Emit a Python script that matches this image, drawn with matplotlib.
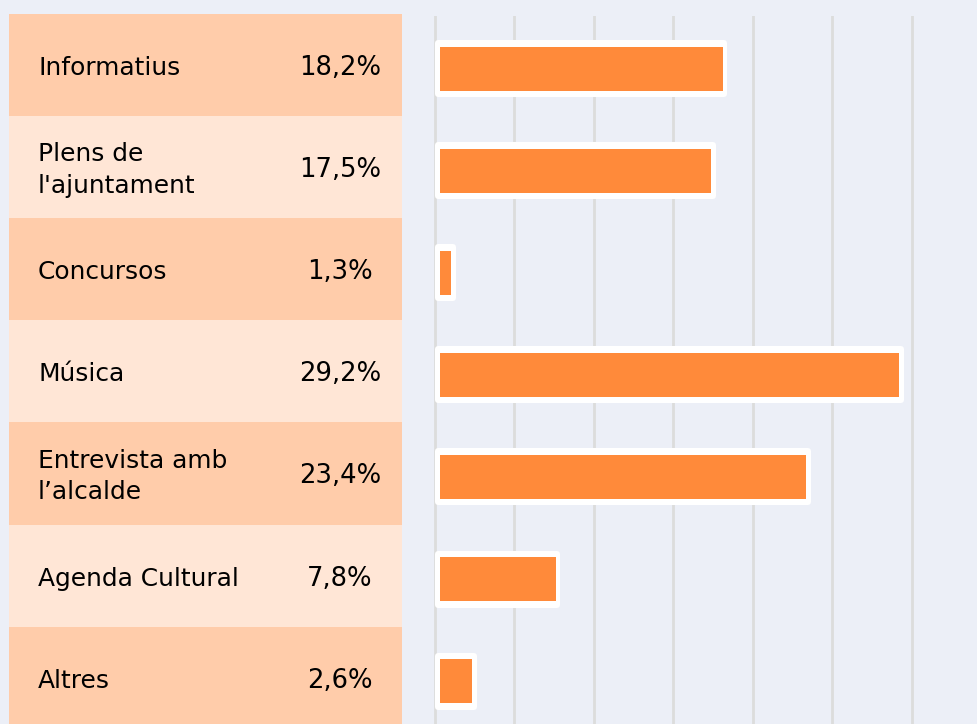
import numpy as np
import matplotlib.pyplot as plt

# Data
categories = ['Informatius', "Plens de\nl'ajuntament", 'Concursos', 'Música',
              'Entrevista amb\nl’alcalde', 'Agenda Cultural', 'Altres']
percentages = [18.2, 17.5, 1.3, 29.2, 23.4, 7.8, 2.6]

W, H = 977, 724
bg = '#ECEFF7'
row_dark = '#FFCCAA'
row_light = '#FFE6D6'
bar_color = '#FF8A3A'

fig = plt.figure(figsize=(W / 100, H / 100), dpi=100)
fig.patch.set_facecolor(bg)

row_h = 102.1   # px per row
top = 14        # px, top of first row
n_rows = (H - top) / row_h
txt_dy = 3 / row_h

# Left "table" with labels and percentages
tab = fig.add_axes([9 / W, 0, (402 - 9) / W, (H - top) / H])
tab.set_xlim(0, 393)
tab.set_ylim(n_rows - 0.5, -0.5)
tab.axis('off')
for i, (cat, pct) in enumerate(zip(categories, percentages)):
    tab.axhspan(i - 0.5, i + 0.5, color=row_dark if i % 2 == 0 else row_light, lw=0)
    tab.text(29, i + txt_dy, cat, ha='left', va='center', fontsize=17.9, color='black',
             linespacing=1.4)
    tab.text(331, i + txt_dy, f'{pct:.1f}'.replace('.', ',') + '%', ha='center',
             va='center', fontsize=18.6, color='black')

# Bar chart
px_per_pct = 16.05
x0 = 435
ax_top = 16
ax = fig.add_axes([402 / W, 0, (W - 402) / W, (H - ax_top) / H])
ax.set_facecolor(bg)
ax.set_xlim((402 - x0) / px_per_pct, (W - x0) / px_per_pct)
ax.set_ylim((H - top) / row_h - 0.5, (ax_top - top) / row_h - 0.5)
for s in ax.spines.values():
    s.set_visible(False)
ax.set_xticks(np.arange(0, 35, 5) * 0.99)
ax.set_yticks([])
ax.tick_params(length=0, labelbottom=False)
ax.grid(axis='x', color='#DCDCDC', linewidth=2)
ax.set_axisbelow(True)

ypos = np.arange(len(categories)) + 3.5 / row_h
r = 3 / px_per_pct          # corner rounding in data units
white_h = 57 / row_h
orange_h = 44 / row_h
inset = 4.5 / px_per_pct
vals = np.array(percentages)
ax.barh(ypos, vals - 2 * r, left=r, height=white_h - 2 * 3 / row_h, color='white',
        edgecolor='white', linewidth=6 * 0.72, joinstyle='round', zorder=2)
ax.barh(ypos, vals - 2 * inset, left=inset, height=orange_h, color=bar_color,
        linewidth=0, zorder=3)

fig.savefig('out.png', dpi=100, facecolor=bg)
